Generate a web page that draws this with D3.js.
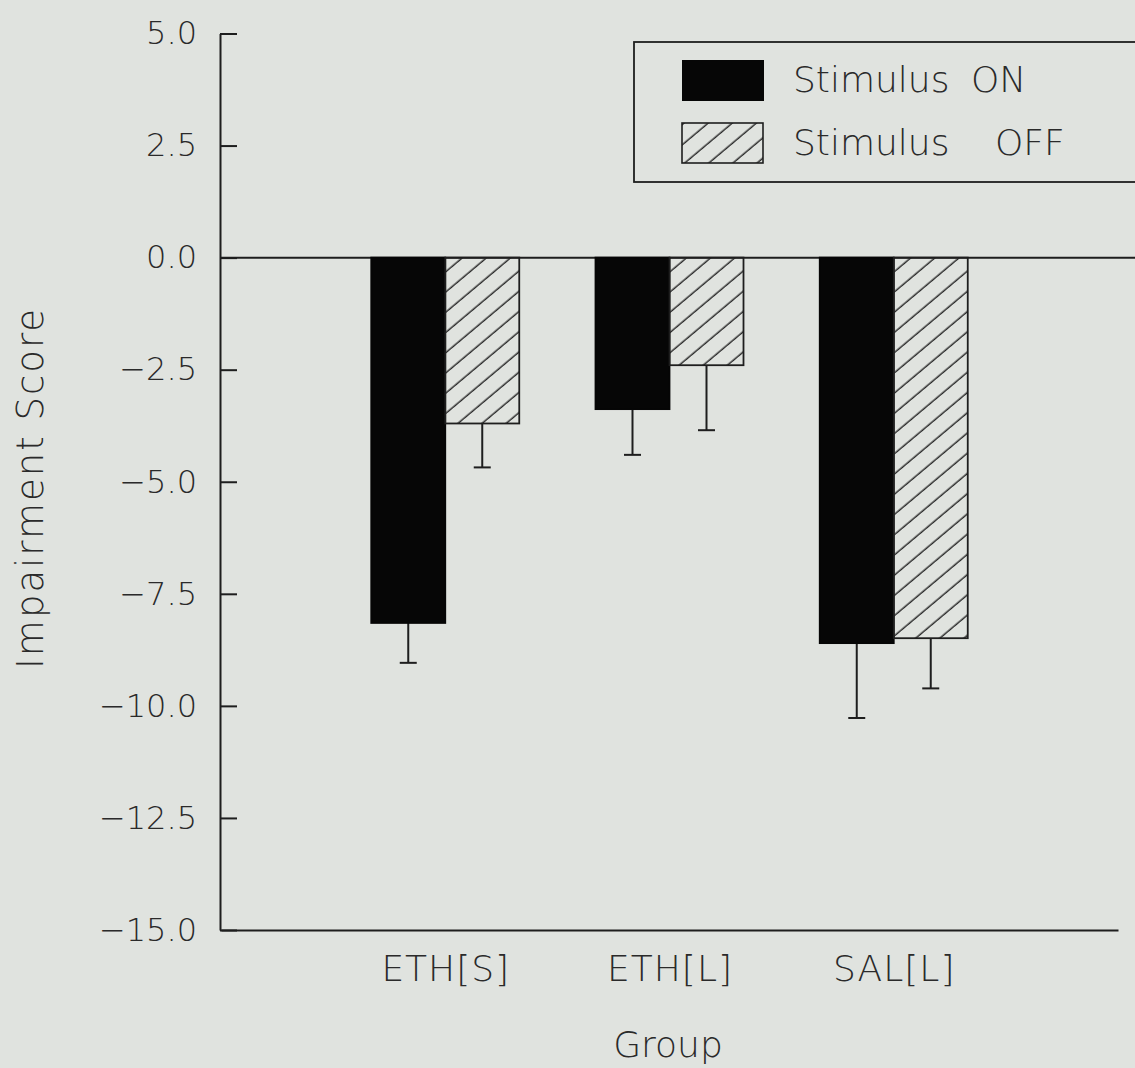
<!DOCTYPE html>
<html>
<head>
<meta charset="utf-8">
<script src="https://cdn.jsdelivr.net/npm/d3@7"></script>
<style>
  html, body { margin: 0; padding: 0; background: #e0e3df; }
  svg { display: block; }
  text { font-family: "DejaVu Sans", sans-serif; font-weight: 200; fill: #2a2a2a; }
</style>
</head>
<body>
<script>
// Group means and standard errors of the impairment score
const categories = ["ETH[S]", "ETH[L]", "SAL[L]"];
const seriesNames = ["Stimulus ON", "Stimulus OFF"];
const onMeans = [-8.15, -3.38, -8.60];
const onErrors = [0.89, 1.02, 1.67];
const offMeans = [-3.70, -2.40, -8.49];
const offErrors = [0.98, 1.45, 1.12];
const yTicks = [5.0, 2.5, 0.0, -2.5, -5.0, -7.5, -10.0, -12.5, -15.0];

const W = 1135, H = 1068;
const ink = "#1e1e1e";

const svg = d3.select("body").append("svg").attr("width", W).attr("height", H);

const defs = svg.append("defs");
defs.append("pattern")
  .attr("id", "hatch")
  .attr("patternUnits", "userSpaceOnUse")
  .attr("width", 40).attr("height", 15.5)
  .attr("patternTransform", "rotate(-40)")
  .append("line")
  .attr("x1", 0).attr("x2", 40).attr("y1", 7).attr("y2", 7)
  .attr("stroke", "#2a2a2a").attr("stroke-width", 1.5);

const y = d3.scaleLinear().domain([-15, 5]).range([930, 33.5]);
const x = d3.scalePoint().domain(categories).range([221, 1118]).padding(1);
const inner = d3.scaleBand().domain(["on", "off"]).range([-74, 74]);

// Y axis with inward ticks
const yAxis = svg.append("g")
  .attr("transform", "translate(220,0)")
  .call(d3.axisLeft(y).tickValues(yTicks).tickFormat(d3.format(".1f"))
    .tickSizeInner(-17).tickSizeOuter(0).tickPadding(23));
yAxis.select(".domain").attr("stroke", ink).attr("stroke-width", 2);
yAxis.selectAll(".tick line").attr("stroke", ink).attr("stroke-width", 2);
yAxis.selectAll(".tick text").attr("font-size", 32).attr("font-family", null).attr("fill", null);

// X axis: baseline line and category labels
const xAxis = svg.append("g")
  .attr("transform", "translate(0,930)")
  .call(d3.axisBottom(x).tickSize(0).tickPadding(25));
xAxis.select(".domain").attr("stroke", ink).attr("stroke-width", 2);
xAxis.selectAll(".tick text").attr("font-size", 36).attr("letter-spacing", 1)
  .attr("font-family", null).attr("fill", null);

// Zero reference line
svg.append("line")
  .attr("x1", 220).attr("x2", W)
  .attr("y1", y(0)).attr("y2", y(0))
  .attr("stroke", ink).attr("stroke-width", 2);

const rows = categories.map((c, i) => ({
  cat: c,
  bars: [
    { key: "on", v: onMeans[i], e: onErrors[i] },
    { key: "off", v: offMeans[i], e: offErrors[i] }
  ]
}));

const groups = svg.append("g").selectAll("g")
  .data(rows).join("g")
  .attr("transform", d => `translate(${x(d.cat)},0)`);

// Error bars (lower side only)
groups.selectAll("g.err")
  .data(d => d.bars).join("g").attr("class", "err")
  .each(function (d) {
    const cx = inner(d.key) + inner.bandwidth() / 2;
    const g = d3.select(this);
    g.append("line")
      .attr("x1", cx).attr("x2", cx)
      .attr("y1", y(d.v)).attr("y2", y(d.v - d.e))
      .attr("stroke", ink).attr("stroke-width", 2);
    g.append("line")
      .attr("x1", cx - 8.5).attr("x2", cx + 8.5)
      .attr("y1", y(d.v - d.e)).attr("y2", y(d.v - d.e))
      .attr("stroke", ink).attr("stroke-width", 2);
  });

// Bars
groups.selectAll("rect")
  .data(d => d.bars).join("rect")
  .attr("x", d => inner(d.key))
  .attr("width", inner.bandwidth())
  .attr("y", y(0))
  .attr("height", d => y(d.v) - y(0))
  .attr("fill", d => d.key === "on" ? "#060606" : "url(#hatch)")
  .attr("stroke", d => d.key === "on" ? "#060606" : ink)
  .attr("stroke-width", 1.8);

// Legend
const legend = svg.append("g");
legend.append("rect")
  .attr("x", 634).attr("y", 42).attr("width", 520).attr("height", 140)
  .attr("fill", "none").attr("stroke", ink).attr("stroke-width", 1.8);
legend.append("rect")
  .attr("x", 682).attr("y", 60).attr("width", 82).attr("height", 41)
  .attr("fill", "#060606");
legend.append("rect")
  .attr("x", 682).attr("y", 123).attr("width", 81).attr("height", 40)
  .attr("fill", "url(#hatch)").attr("stroke", ink).attr("stroke-width", 1.6);

const l1 = legend.append("text").attr("y", 92).attr("font-size", 36);
l1.append("tspan").attr("x", 793).text("Stimulus");
l1.append("tspan").attr("x", 971).text("ON");
const l2 = legend.append("text").attr("y", 155).attr("font-size", 36);
l2.append("tspan").attr("x", 793).text("Stimulus");
l2.append("tspan").attr("x", 995).text("OFF");

// Axis titles
svg.append("text")
  .attr("transform", "translate(43,488) rotate(-90)")
  .attr("text-anchor", "middle")
  .attr("font-size", 37)
  .attr("letter-spacing", 2)
  .text("Impairment Score");

svg.append("text")
  .attr("x", 668).attr("y", 1057)
  .attr("text-anchor", "middle")
  .attr("font-size", 36)
  .text("Group");
</script>
</body>
</html>
